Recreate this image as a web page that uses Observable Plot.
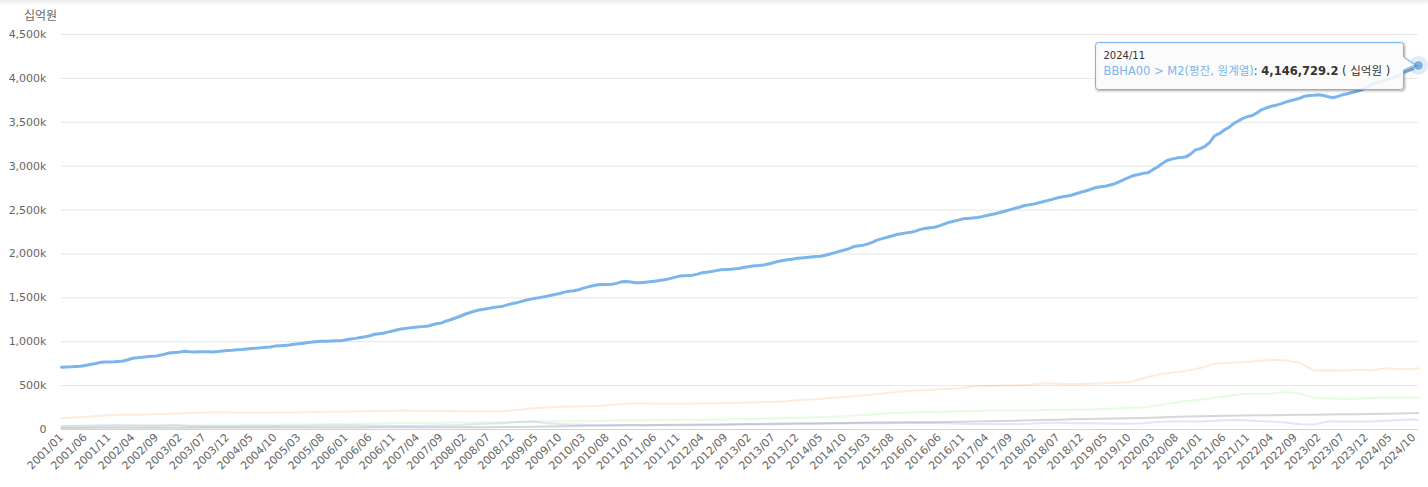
<!DOCTYPE html>
<html>
<head>
<meta charset="utf-8">
<script src="https://cdn.jsdelivr.net/npm/d3@7"></script>
<script src="https://cdn.jsdelivr.net/npm/@observablehq/plot@0.6"></script>
<style>
  html, body { margin: 0; padding: 0; background: #fff; }
  #wrap { position: relative; width: 1428px; height: 487px; overflow: hidden; }
  #topshade { position: absolute; left: 0; top: 0; width: 1428px; height: 5px;
    background: linear-gradient(#ececec, rgba(255,255,255,0)); }
  #unit { position: absolute; left: 24px; top: 6px; font: 12px "DejaVu Sans", "Noto Sans CJK KR", sans-serif; color: #666; }
  svg { display: block; }
</style>
</head>
<body>
<div id="wrap"><div id="topshade"></div><div id="unit"></div></div>
<script>
// ---- data ----
const unitLabel = "십억원";
const yTicks = [0, 500, 1000, 1500, 2000, 2500, 3000, 3500, 4000, 4500];

// month categories 2001/01 .. 2024/11
const months = [];
for (let y = 2001; y <= 2024; y++) {
  for (let m = 1; m <= 12; m++) {
    if (y === 2024 && m > 11) break;
    months.push(y + "/" + String(m).padStart(2, "0"));
  }
}

// BBHA00 > M2(평잔, 원계열), monthly, thousands of 십억원 (axis "k")
const m2 = [
  710, 712, 714, 718, 721, 730, 740, 750, 762, 768, 770, 772,
  776, 780, 795, 812, 818, 822, 830, 835, 838, 848, 862, 874,
  878, 882, 892, 886, 884, 885, 886, 887, 884, 888, 895, 900,
  903, 908, 912, 918, 922, 926, 930, 937, 940, 950, 954, 958,
  962, 970, 976, 982, 990, 996, 1002, 1004, 1006, 1008, 1010, 1012,
  1022, 1030, 1038, 1048, 1056, 1068, 1085, 1090, 1100, 1112, 1125, 1140,
  1147, 1155, 1162, 1168, 1172, 1175, 1190, 1204, 1212, 1234, 1250, 1270,
  1290, 1313, 1330, 1348, 1362, 1370, 1380, 1390, 1397, 1405, 1420, 1435,
  1445, 1460, 1475, 1485, 1495, 1505, 1515, 1526, 1538, 1550, 1565, 1574,
  1580, 1592, 1610, 1625, 1637, 1648, 1652, 1653, 1655, 1665, 1682, 1685,
  1680, 1672, 1673, 1678, 1684, 1690, 1697, 1705, 1716, 1730, 1745, 1752,
  1754, 1758, 1770, 1785, 1792, 1800, 1810, 1820, 1822, 1825, 1830, 1838,
  1848, 1857, 1865, 1868, 1875, 1885, 1900, 1915, 1925, 1933, 1940, 1950,
  1955, 1960, 1965, 1970, 1974, 1985, 2000, 2015, 2031, 2045, 2060, 2084,
  2092, 2100, 2115, 2135, 2160, 2175, 2190, 2205, 2221, 2230, 2240, 2248,
  2260, 2280, 2289, 2298, 2304, 2320, 2340, 2360, 2373, 2385, 2400, 2405,
  2410, 2415, 2425, 2438, 2450, 2460, 2475, 2490, 2505, 2520, 2535, 2552,
  2560, 2570, 2583, 2597, 2610, 2625, 2640, 2651, 2660, 2672, 2689, 2705,
  2720, 2738, 2757, 2765, 2772, 2785, 2800, 2825, 2850, 2872, 2894, 2905,
  2918, 2924, 2960, 2990, 3030, 3065, 3080, 3092, 3100, 3106, 3140, 3185,
  3200, 3225, 3270, 3345, 3370, 3410, 3440, 3484, 3515, 3545, 3565, 3577,
  3610, 3645, 3665, 3683, 3695, 3710, 3729, 3745, 3760, 3774, 3797, 3805,
  3808, 3813, 3805, 3790, 3779, 3795, 3813, 3825, 3840, 3854, 3870, 3895,
  3927, 3945, 3965, 3980, 3995, 4015, 4040, 4070, 4090, 4110, 4146.7292
];

// faded component series, quarterly (Jan, Apr, Jul, Oct) + 2024/11
const savingsDemand = [ // 수시입출식 저축성예금
  129, 140, 148, 160,  167, 167, 170, 178,  182, 188, 193, 197,  195, 192, 190, 193,
  195, 197, 199, 201,  203, 207, 210, 214,  216, 214, 212, 210,  209, 208, 208, 208,
  222, 238, 250, 258,  262, 266, 273, 285,  296, 295, 293, 292,  293, 296, 300, 304,
  306, 310, 315, 322,  338, 345, 358, 370,  385, 399, 415, 433,  445, 452, 460, 466,
  490, 495, 500, 505,  510, 528, 522, 516,  520, 525, 532, 539,  584, 625, 649, 665,
  700, 748, 760, 767,  780, 794, 786, 760,  672, 676, 668, 680,  672, 698, 687, 692,
  698
];
const demandDeposits = [ // 요구불예금
  32, 33, 34, 36,  38, 40, 42, 44,  45, 46, 47, 48,  49, 50, 52, 54,
  56, 58, 60, 62,  64, 66, 68, 70,  72, 73, 75, 77,  79, 80, 82, 83,
  86, 90, 93, 95,  97, 98, 100, 102,  104, 106, 107, 108,  110, 112, 114, 116,
  118, 121, 125, 130,  135, 140, 146, 152,  162, 172, 184, 192,  197, 200, 203, 207,
  210, 213, 216, 218,  220, 222, 224, 225,  228, 232, 238, 247,  250, 273, 300, 325,
  340, 361, 385, 405,  406, 406, 430, 410,  361, 352, 350, 349,  360, 368, 365, 361,
  361
];
const currency = [ // 현금통화
  18, 18, 19, 19,  19, 20, 20, 21,  21, 21, 22, 22,  22, 22, 23, 23,
  23, 23, 24, 24,  24, 24, 25, 25,  25, 25, 26, 26,  26, 27, 27, 28,
  29, 31, 34, 37,  40, 42, 44, 46,  47, 49, 51, 53,  55, 57, 58, 60,
  62, 64, 66, 68,  70, 72, 73, 75,  77, 79, 81, 82,  83, 84, 86, 88,
  91, 94, 97, 100,  104, 108, 112, 116,  119, 122, 125, 128,  132, 138, 143, 147,
  150, 154, 157, 159,  161, 163, 165, 167,  169, 171, 173, 175,  177, 180, 183, 186,
  188
];
const mmf = [ // MMF
  40, 42, 45, 48,  50, 48, 46, 45,  50, 40, 35, 33,  34, 36, 38, 40,
  42, 44, 45, 46,  48, 46, 44, 42,  40, 42, 45, 48,  52, 60, 65, 72,
  85, 90, 75, 62,  58, 55, 52, 50,  50, 48, 47, 47,  48, 50, 52, 54,
  56, 58, 58, 60,  62, 64, 66, 68,  70, 72, 72, 74,  76, 74, 70, 66,
  64, 62, 61, 62,  66, 75, 79, 72,  70, 68, 66, 65,  70, 85, 91, 90,
  92, 100, 108, 105,  96, 91, 80, 60,  58, 95, 92, 90,  91, 100, 108, 113,
  110
];

const seriesName = "BBHA00 > M2(평잔, 원계열)";
const blue = "#7cb5ec";

// ---- tables ----
const blueData = m2.map((v, i) => ({i, v}));
const qIndex = (k, n) => (k === n - 1 ? months.length - 1 : k * 3);
const faded = [
  {name: "수시입출식 저축성예금", vals: savingsDemand, color: "#f7a35c"},
  {name: "요구불예금", vals: demandDeposits, color: "#90ed7d"},
  {name: "현금통화", vals: currency, color: "#434348"},
  {name: "MMF", vals: mmf, color: "#8085e9"}
].flatMap(s => s.vals.map((v, k, a) => ({name: s.name, color: s.color, i: qIndex(k, a.length), v})));

const xTicks = d3.range(0, months.length, 5);
const last = blueData[blueData.length - 1];
const fmtK = v => v === 0 ? "0" : d3.format(",")(v) + "k";

const chart = Plot.plot({
  width: 1428,
  height: 487,
  marginLeft: 61,
  marginRight: 10,
  marginTop: 34,
  marginBottom: 58,
  style: {fontFamily: "'DejaVu Sans', 'Noto Sans CJK KR', sans-serif", fontSize: "11px", color: "#666", background: "transparent"},
  x: {type: "linear", domain: [0, months.length - 1]},
  y: {domain: [0, 4500]},
  marks: [
    Plot.gridY(yTicks.slice(1), {stroke: "#e6e6e6", strokeOpacity: 1}),
    Plot.axisY({ticks: yTicks, tickSize: 0, tickPadding: 15, tickFormat: fmtK, fill: "#666", label: null}),
    Plot.axisX({ticks: xTicks, tickSize: 0, tickPadding: 6, tickRotate: -45, tickFormat: i => months[i], fill: "#666", label: null}),
    Plot.ruleY([0], {stroke: "#ccd6eb"}),
    Plot.line(faded, {x: "i", y: "v", z: "name", stroke: "color", strokeWidth: 2, strokeOpacity: 0.22}),
    Plot.line(blueData, {x: "i", y: "v", stroke: blue, strokeWidth: 3, strokeLinejoin: "round"}),
    Plot.dot([last], {x: "i", y: "v", r: 9.5, fill: blue, fillOpacity: 0.25, stroke: "none"}),
    Plot.dot([last], {x: "i", y: "v", r: 5, fill: blue, stroke: "#fff", strokeWidth: 1})
  ]
});

document.getElementById("wrap").prepend(chart);
chart.style.position = "absolute";
chart.style.left = "0px";
chart.style.top = "0px";
document.getElementById("unit").textContent = unitLabel;

// ---- tooltip (positioned from the scales) ----
const px = chart.scale("x").apply(last.i);
const py = chart.scale("y").apply(last.v);
const svg = d3.select(chart);
const x1 = px - 14.5, x0 = x1 - 308, y0 = py - 22.5, y1 = y0 + 47, r = 3;
const pathD = `M${x0 + r},${y0} L${x1 - r},${y0} Q${x1},${y0} ${x1},${y0 + r} L${x1},${py - 8} L${px - 3},${py} L${x1},${py + 5} L${x1},${y1 - r} Q${x1},${y1} ${x1 - r},${y1} L${x0 + r},${y1} Q${x0},${y1} ${x0},${y1 - r} L${x0},${y0 + r} Q${x0},${y0} ${x0 + r},${y0} Z`;
const tip = svg.append("g").attr("text-anchor", "start");
[5, 3, 1].forEach((w, k) => tip.append("path").attr("d", pathD).attr("fill", "none")
  .attr("stroke", "#000").attr("stroke-opacity", [0.04, 0.07, 0.12][k]).attr("stroke-width", w)
  .attr("transform", "translate(1,1)"));
tip.append("path").attr("d", pathD).attr("fill", "rgba(250,250,250,0.88)").attr("stroke", blue).attr("stroke-width", 1);
tip.append("text").attr("x", x0 + 8).attr("y", y0 + 16).attr("fill", "#333").attr("text-anchor", "start")
  .style("font-size", "10px").text(months[last.i]);
const t2 = tip.append("text").attr("x", x0 + 8).attr("y", y0 + 32).attr("fill", "#333").attr("text-anchor", "start").style("font-size", "11.5px");
t2.append("tspan").attr("fill", blue).text(seriesName);
t2.append("tspan").text(": ");
t2.append("tspan").attr("font-weight", "bold").text(d3.format(",.1f")(Math.round(last.v * 10000) / 10));
t2.append("tspan").text(" ( " + unitLabel + " )");
</script>
</body>
</html>
